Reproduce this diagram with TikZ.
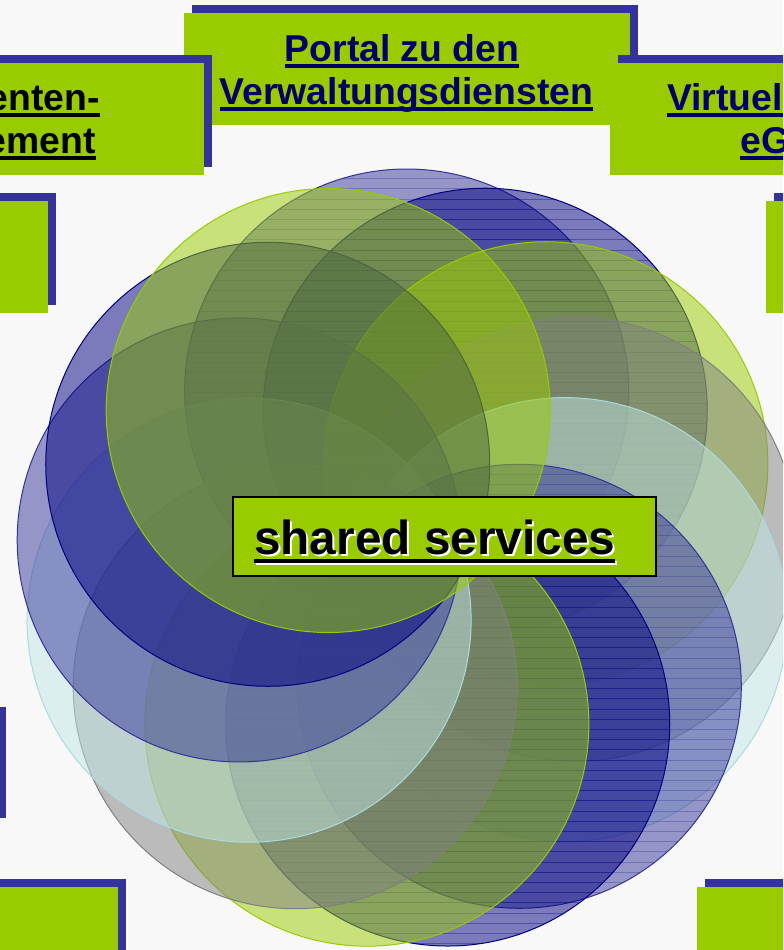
\documentclass[tikz,border=0pt]{standalone}
\usepackage{fontspec}
\setmainfont{Liberation Sans}
\usetikzlibrary{calc}
\definecolor{lime}{HTML}{99CC00}
\definecolor{shblue}{HTML}{333399}
\definecolor{navytext}{HTML}{000066}
\definecolor{cdb}{HTML}{000080}
\definecolor{cgray}{HTML}{808080}
\definecolor{ccyan}{HTML}{C1E5E5}
\definecolor{ccyanline}{HTML}{A8DCE0}
\definecolor{bgcol}{HTML}{F8F8F8}
\begin{document}
\begin{tikzpicture}[x=0.75pt,y=-0.75pt,
  limebox/.style={fill=lime},
  shadowbox/.style={fill=shblue},
  boxtxt/.style={inner sep=0pt, font=\bfseries\fontsize{28}{34}\selectfont},
  sstxt/.style={inner sep=0pt, font=\bfseries\fontsize{35.8}{43}\selectfont},
  ulline/.style={line width=2.4pt}]
\useasboundingbox[fill=bgcol] (0,0) rectangle (783,950);
\clip (0,0) rectangle (783,950);
% ring of circles
\foreach \k/\col/\lcol/\hatch in {1/shblue/shblue/1, 2/cdb/cdb/1, 3/lime/lime/0, 4/cgray/cgray/0, 5/ccyan/ccyanline/0, 6/shblue/shblue/1, 7/cdb/cdb/1, 8/lime/lime/0, 9/cgray/cgray/0, 10/ccyan/ccyanline/0, 11/shblue/shblue/0, 12/cdb/cdb/0, 0/lime/lime/0} {
  \pgfmathsetmacro\cx{407+169*cos(117.8-27.692*\k)}
  \pgfmathsetmacro\cy{560-169*sin(117.8-27.692*\k)}
  \fill[\col, fill opacity=0.5] (\cx,\cy) circle[radius=222];
  \ifnum\hatch=1
    \begin{scope}
      \clip (\cx,\cy) circle[radius=222];
      \foreach \i in {0,...,80} \draw[\col, opacity=0.35, line width=0.6pt] ({\cx-230},{148+10.2*\i}) -- ++(460,0);
    \end{scope}
  \fi
  \draw[\lcol, line width=0.75pt] (\cx,\cy) circle[radius=222];
}
% boxes
\fill[shadowbox] (192,5) rectangle (638,117);
\fill[limebox] (184,13) rectangle (630,125);
\fill[shadowbox] (-242,55) rectangle (212,167);
\fill[limebox] (-250,63) rectangle (204,175);
\fill[shadowbox] (618,55) rectangle (1068,167);
\fill[limebox] (610,63) rectangle (1060,175);
\fill[shadowbox] (-392,193) rectangle (56,305);
\fill[limebox] (-400,201) rectangle (48,313);
\fill[shadowbox] (774,193) rectangle (1208,305);
\fill[limebox] (766,201) rectangle (1200,313);
\fill[shadowbox] (-392,707) rectangle (6,818);
\fill[limebox] (-400,715) rectangle (-2,826);
\fill[shadowbox] (-392,879) rectangle (126,991);
\fill[limebox] (-400,887) rectangle (118,999);
\fill[shadowbox] (705,879) rectangle (1208,991);
\fill[limebox] (697,887) rectangle (1200,999);
% texts
\node[boxtxt, text=navytext, anchor=base] (p1) at (402,61) {Portal zu den};
\node[boxtxt, text=navytext, anchor=base] (p2) at (406.5,104) {Verwaltungsdiensten};
\draw[navytext, ulline] ([yshift=-3.75pt]p1.base west) -- ([yshift=-3.75pt]p1.base east);
\draw[navytext, ulline] ([yshift=-3.75pt]p2.base west) -- ([yshift=-3.75pt]p2.base east);
\node[boxtxt, text=black, anchor=base east] (l1) at (100,110) {enten-};
\node[boxtxt, text=black, anchor=base east] (l2) at (96,153) {ement};
\draw[black, ulline] ([yshift=-3.75pt]l1.base west) -- ([yshift=-3.75pt]l1.base east);
\draw[black, ulline] ([yshift=-3.75pt]l2.base west) -- ([yshift=-3.75pt]l2.base east);
\node[boxtxt, text=navytext, anchor=base west] (r1) at (667,110) {Virtuel};
\node[boxtxt, text=navytext, anchor=base west] (r2) at (740,153) {eG};
\draw[navytext, ulline] ([yshift=-3.75pt]r1.base west) -- ([yshift=-3.75pt]r1.base east);
\draw[navytext, ulline] ([yshift=-3.75pt]r2.base west) -- ([yshift=-3.75pt]r2.base east);
% center box
\filldraw[fill=lime, draw=black, line width=1.5pt] (233,497) rectangle (656,576);
\node[sstxt, text=white, anchor=base west] (ssw) at (256,556) {shared services};
\node[sstxt, text=black, anchor=base west] (ss) at (254,554) {shared services};
\draw[white, line width=3.4pt] ([xshift=1.5pt,yshift=-6.75pt]ss.base west) -- ([xshift=1.5pt,yshift=-6.75pt]ss.base east);
\draw[black, line width=3.4pt] ([yshift=-5.25pt]ss.base west) -- ([yshift=-5.25pt]ss.base east);
\end{tikzpicture}
\end{document}
